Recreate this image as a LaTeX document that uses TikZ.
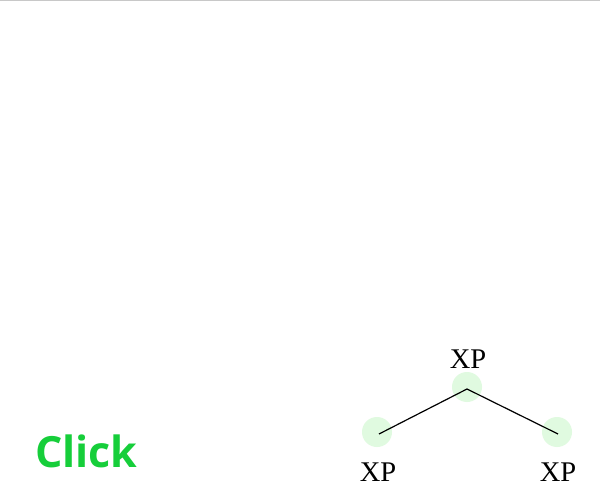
\documentclass[tikz,border=0pt]{standalone}
\usepackage{fontspec}
\setmainfont{Liberation Serif}
\newfontfamily\clickfont{Open Sans}
\definecolor{topline}{RGB}{200,200,200}
\definecolor{dotfill}{RGB}{224,250,224}
\definecolor{clickgreen}{RGB}{22,206,58}
\begin{document}
\begin{tikzpicture}[x=1pt,y=-1pt,
  dot/.style={circle,fill=dotfill,minimum size=30pt,inner sep=0pt},
  lab/.style={font=\fontsize{28.5}{28.5}\selectfont,text=black,inner sep=0pt},
  branch/.style={draw=black,line width=1.2pt}]
\useasboundingbox (0,0) rectangle (600,500);
\fill[white] (0,0) rectangle (600,500);
\draw[topline,line width=1.5pt] (0,0.75) -- (600,0.75);
\node[dot] (top) at (467,387) {};
\node[dot] (left) at (377,432) {};
\node[dot] (right) at (557,432) {};
\coordinate (tp) at (467,389);
\coordinate (lp) at (379,434);
\coordinate (rp) at (558,434);
\draw[branch] (lp) -- (tp) -- (rp);
\node[lab] (ltop) at (468,359) {XP};
\node[lab] (lleft) at (378,472) {XP};
\node[lab] (lright) at (558,472) {XP};
\node[anchor=base west,inner sep=0pt,text=clickgreen,font=\clickfont\bfseries\fontsize{43}{43}\selectfont] (click) at (35,467) {Click};
\end{tikzpicture}
\end{document}
